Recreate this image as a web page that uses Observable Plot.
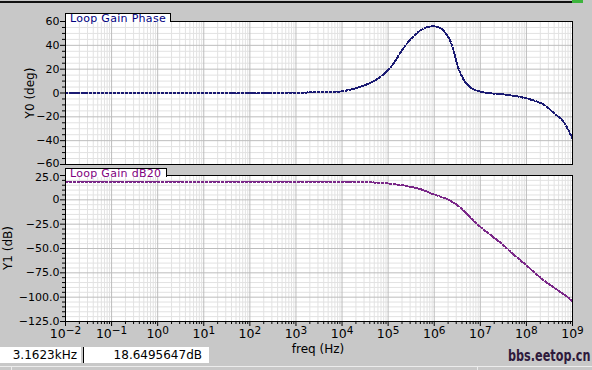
<!DOCTYPE html>
<html><head><meta charset="utf-8">
<script src="https://cdn.jsdelivr.net/npm/d3@7"></script>
<script src="https://cdn.jsdelivr.net/npm/@observablehq/plot@0.6"></script>
<style>
html,body{margin:0;padding:0;background:#c8c8c8;}
#wrap{position:relative;width:592px;height:370px;overflow:hidden;background:#c8c8c8;font-family:"DejaVu Sans",sans-serif;color:#000;}
.abs{position:absolute;white-space:nowrap;}
.plotbox{position:absolute;left:0;}
.tab{position:absolute;background:#fff;border-top:1px solid #000;border-right:1px solid #000;border-left:1px solid #000;box-sizing:border-box;z-index:2;}
.tabtxt{position:absolute;font-size:11px;line-height:11px;letter-spacing:0.3px;white-space:nowrap;z-index:3;}
.ylab{position:absolute;width:120px;text-align:center;font-size:12px;line-height:14px;transform:rotate(-90deg);transform-origin:50% 50%;white-space:nowrap;}
.stat{position:absolute;background:#fff;box-sizing:border-box;font-size:12px;line-height:16px;text-align:right;padding-right:4px;white-space:nowrap;}
</style></head>
<body><div id="wrap"></div>
<script>
// ---- data ----
const decadeExps = [-2, -1, 0, 1, 2, 3, 4, 5, 6, 7, 8, 9];
const phaseTicks = [-60, -40, -20, 0, 20, 40, 60];
const gainTicks = [25, 0, -25, -50, -75, -100, -125];
const phaseFreqExp = [-2, 1, 2.5, 3.0, 3.5, 3.97, 4.25, 4.55, 4.77, 4.98, 5.12, 5.27, 5.48, 5.70, 5.85, 5.98, 6.08, 6.17, 6.31, 6.42, 6.52, 6.63, 6.79, 7.00, 7.22, 7.50, 7.70, 7.87, 8.15, 8.37, 8.59, 8.80, 9.0];
const phaseDeg     = [0, 0, 0, 0.3, 0.6, 1.3, 3.5, 7.4, 11.8, 18.6, 25, 34, 44.8, 52.4, 55.3, 56, 55.2, 53.5, 46.7, 35.5, 21.4, 11.8, 4.5, 1.1, -0.2, -1.1, -2.2, -3.4, -6.2, -9.6, -16.6, -23.7, -38.5];
const gainFreqExp = [-2, 3, 4, 4.5, 4.83, 5.05, 5.27, 5.50, 5.70, 5.98, 6.28, 6.52, 6.71, 6.93, 7.15, 7.43, 7.71, 8.01, 8.30, 8.59, 8.80, 9.0];
const gainDb      = [18.65, 18.65, 18.6, 18.2, 17.4, 16.5, 15.2, 13.3, 11, 5.8, 0.7, -6.2, -14.7, -25, -33.5, -43.8, -55.7, -67.8, -79.8, -90, -96.8, -104];
const traceNames = ["Loop Gain Phase", "Loop Gain dB20"];
const axisLabels = ["Y0 (deg)", "Y1 (dB)", "freq (Hz)"];
const statusFreq = "3.1623kHz";
const statusValue = "18.6495647dB";
const watermark = "bbs.eetop.cn";

// ---- derived ----
const xMajor = decadeExps.map(e => 10 ** e);
const xMinor = decadeExps.slice(0, -1).flatMap(e => [2,3,4,5,6,7,8,9].map(k => k * 10 ** e));
const phaseMinor = d3.range(-60, 61, 5).filter(v => v % 20 !== 0);
const gainMinor = d3.range(-125, 26, 5).filter(v => v % 25 !== 0);
const phaseData = phaseFreqExp.map((e, i) => ({f: 10 ** e, v: phaseDeg[i]}));
const gainData = gainFreqExp.map((e, i) => ({f: 10 ** e, v: gainDb[i]}));
const minus = s => String(s).replace("-", "\u2212");

const wrap = document.getElementById("wrap");
const baseStyle = {background: "transparent", fontFamily: "DejaVu Sans", fontSize: "11px", color: "black", overflow: "visible"};
const W = 592, ML = 65, MR = 20;

const gridMarks = (minorY, majorY) => [
  Plot.frame({fill: "white", stroke: null}),
  Plot.gridX({ticks: xMinor, stroke: "#e2e2e2", strokeOpacity: 1}),
  Plot.gridY({ticks: minorY, stroke: "#e2e2e2", strokeOpacity: 1}),
  Plot.gridX({ticks: xMajor, stroke: "#bdbdbd", strokeOpacity: 1}),
  Plot.gridY({ticks: majorY, stroke: "#bdbdbd", strokeOpacity: 1})
];

const topPlot = Plot.plot({
  width: W, height: 168, marginLeft: ML, marginRight: MR, marginTop: 21, marginBottom: 4,
  style: baseStyle,
  x: {type: "log", domain: [1e-2, 1e9], axis: null},
  y: {domain: [-60, 60], label: null},
  marks: [
    ...gridMarks(phaseMinor, phaseTicks),
    Plot.line(phaseData, {x: "f", y: "v", stroke: "#1a1a72", strokeWidth: 2, strokeDasharray: "2,2", curve: "catmull-rom", shapeRendering: "crispEdges"}),
    Plot.frame({stroke: "black"}),
    Plot.axisY({ticks: phaseMinor, tickSize: 3, tickFormat: () => "", label: null}),
    Plot.axisY({ticks: phaseTicks, tickSize: 5, tickPadding: 1, tickFormat: minus, label: null})
  ]
});

const bottomPlot = Plot.plot({
  width: W, height: 202, marginLeft: ML, marginRight: MR, marginTop: 7, marginBottom: 49,
  style: baseStyle,
  x: {type: "log", domain: [1e-2, 1e9], label: null},
  y: {domain: [-125, 25], label: null},
  marks: [
    ...gridMarks(gainMinor, gainTicks),
    Plot.line(gainData, {x: "f", y: "v", stroke: "#7a2888", strokeWidth: 2, strokeDasharray: "2,2", curve: "catmull-rom", shapeRendering: "crispEdges"}),
    Plot.frame({stroke: "black"}),
    Plot.axisY({ticks: gainMinor, tickSize: 3, tickFormat: () => "", label: null}),
    Plot.axisY({ticks: gainTicks, tickSize: 5, tickPadding: 1, tickFormat: d => d === 0 ? "0" : minus(d.toFixed(1)), label: null}),
    Plot.axisX({ticks: xMinor, tickSize: 3, tickFormat: () => "", label: null}),
    Plot.axisX({ticks: xMajor, tickSize: 5, tickPadding: 3, fontSize: 12.5, label: null,
      tickFormat: d => "10^" + minus(Math.round(Math.log10(d)))})
  ]
});

// superscript exponents
d3.select(bottomPlot).selectAll('g[aria-label="x-axis tick label"] text').each(function() {
  const t = this.textContent;
  const parts = t.split("^");
  if (parts.length < 2) return;
  const sel = d3.select(this);
  sel.text(null);
  sel.append("tspan").text(parts[0]);
  sel.append("tspan").attr("dy", "-0.45em").attr("font-size", "10.5px").text(parts[1]);
});

// keep the adjoining end labels of the two panels apart
d3.select(topPlot).selectAll('g[aria-label="y-axis tick label"] text')
  .filter(function() { return this.textContent === minus(phaseTicks[0]); })
  .attr("transform", function() { return (this.getAttribute("transform") || "") + " translate(0,-1.5)"; });
d3.select(bottomPlot).selectAll('g[aria-label="y-axis tick label"] text')
  .filter(function() { return this.textContent === gainTicks[0].toFixed(1); })
  .attr("transform", function() { return (this.getAttribute("transform") || "") + " translate(0,1.5)"; });

topPlot.classList.add("plotbox"); topPlot.style.top = "0px";
bottomPlot.classList.add("plotbox"); bottomPlot.style.top = "168px";
wrap.appendChild(topPlot);
wrap.appendChild(bottomPlot);

function add(cls, css, text) {
  const d = document.createElement("div");
  d.className = cls;
  Object.assign(d.style, css);
  if (text != null) d.textContent = text;
  wrap.appendChild(d);
  return d;
}
// top decorations
add("abs", {left: "0px", top: "1px", width: "572px", height: "2px", background: "#111"});
add("abs", {left: "572px", top: "0px", width: "11px", height: "3px", background: "#3cb43c"});
// trace name tabs
add("tab", {left: "65px", top: "13px", width: "106px", height: "9px"});
add("tabtxt", {left: "70px", top: "13px", color: "#000080"}, traceNames[0]);
add("tab", {left: "65px", top: "168px", width: "102px", height: "9px"});
add("tabtxt", {left: "70px", top: "168px", color: "#800080"}, traceNames[1]);
// axis labels
add("ylab", {left: (30 - 60) + "px", top: (92.5 - 7) + "px"}, axisLabels[0]);
add("ylab", {left: (8 - 60) + "px", top: (248 - 7) + "px"}, axisLabels[1]);
add("abs", {left: "258px", top: "342px", width: "120px", textAlign: "center", fontSize: "12px", lineHeight: "14px"}, axisLabels[2]);
// status bar
add("stat", {left: "0px", top: "347px", width: "81px", height: "16px"}, statusFreq);
add("stat", {left: "83px", top: "347px", width: "126px", height: "16px", borderLeft: "1px solid #000", paddingRight: "7px"}, statusValue);
add("abs", {left: "0px", top: "366px", width: "592px", height: "1px", background: "#ececec"});
add("abs", {left: "11px", top: "366px", width: "1px", height: "4px", background: "#ececec"});
add("abs", {left: "477px", top: "366px", width: "1px", height: "4px", background: "#ececec"});
// watermark
add("abs", {left: "508px", top: "348px", fontSize: "15px", lineHeight: "16px", fontWeight: "bold", color: "#2e1a3c",
  transform: "scaleX(0.75)", transformOrigin: "0 0", zIndex: 4}, watermark);
</script>
</body></html>
